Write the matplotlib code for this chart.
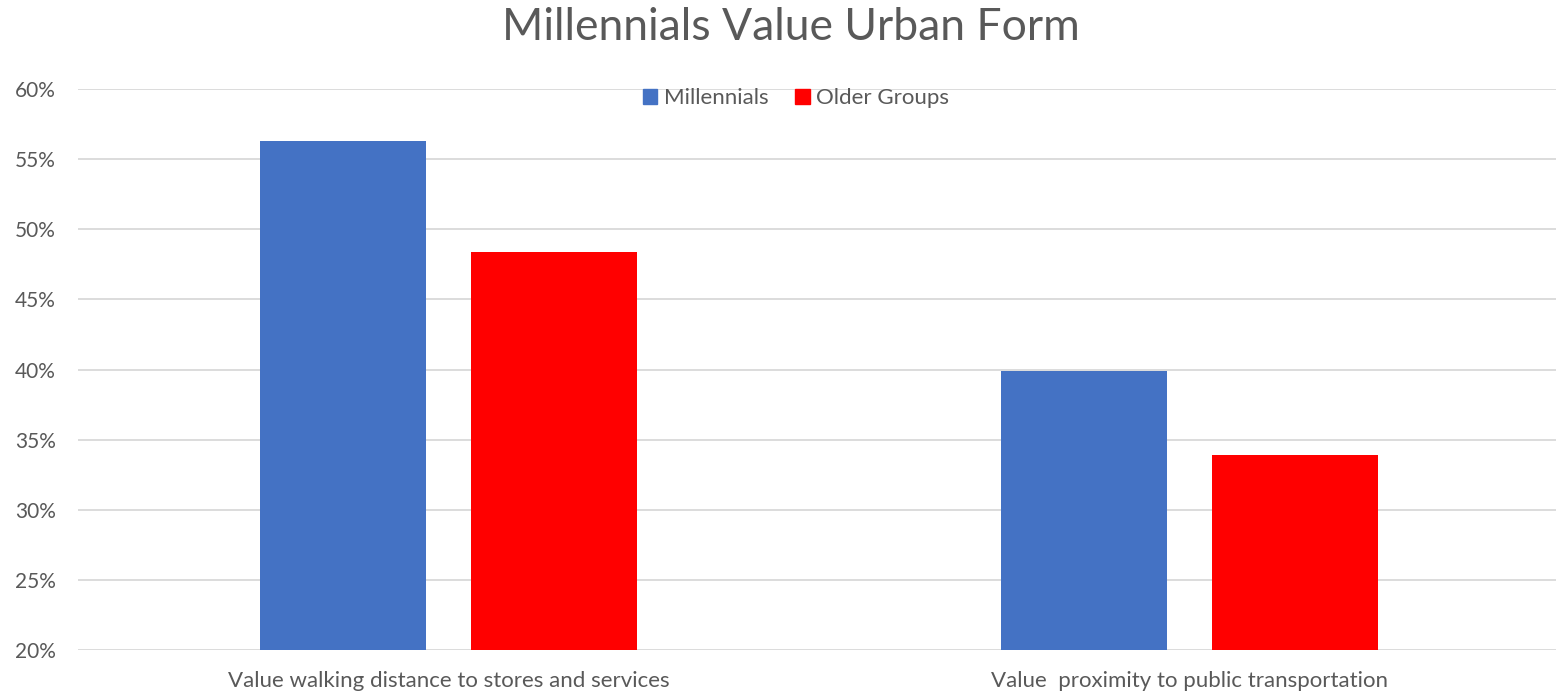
import matplotlib.pyplot as plt
from matplotlib.ticker import PercentFormatter
from matplotlib.patches import Patch
import numpy as np

plt.rcParams['font.family'] = ['Lato', 'DejaVu Sans']

# Survey shares by category
categories = ['Value walking distance to stores and services',
              'Value  proximity to public transportation']
millennials = [56.3, 39.9]
older_groups = [48.4, 33.9]

text_color = '#595959'
grid_color = '#D9D9D9'
blue = '#4472C4'
red = '#FF0000'

fig = plt.figure(figsize=(15.56, 6.95), dpi=100)
ax = fig.add_axes([78 / 1556, 1 - 650 / 695, 1482 / 1556, 561 / 695])

x = np.arange(len(categories))
w = 0.224
off = 0.1424
ax.bar(x - off, millennials, w, color=blue, zorder=3)
ax.bar(x + off, older_groups, w, color=red, zorder=3)

ax.set_xlim(-0.5, 1.5)
ax.set_ylim(20, 60)
ax.set_yticks(np.arange(20, 61, 5))
ax.yaxis.set_major_formatter(PercentFormatter(decimals=0))
ax.set_xticks(x)
ax.set_xticklabels(categories)
ax.tick_params(axis='both', length=0, labelcolor=text_color)
ax.tick_params(axis='x', pad=15, labelsize=16)
ax.tick_params(axis='y', pad=16, labelsize=15)
ax.grid(axis='y', color=grid_color, linewidth=1.3, zorder=0)
for s in ax.spines.values():
    s.set_visible(False)

fig.text(791 / 1556, 1 - 28 / 695, 'Millennials Value Urban Form', ha='center', va='center',
         fontsize=32, color=text_color)

handles = [Patch(color=blue, label='Millennials'), Patch(color=red, label='Older Groups')]
fig.legend(handles=handles, loc='center', bbox_to_anchor=(796 / 1556, 1 - 98 / 695),
           ncol=2, frameon=False, fontsize=16, handlelength=0.65, handleheight=0.65,
           handletextpad=0.3, columnspacing=1.2, labelcolor=text_color)

fig.savefig('out.png', dpi=100)
